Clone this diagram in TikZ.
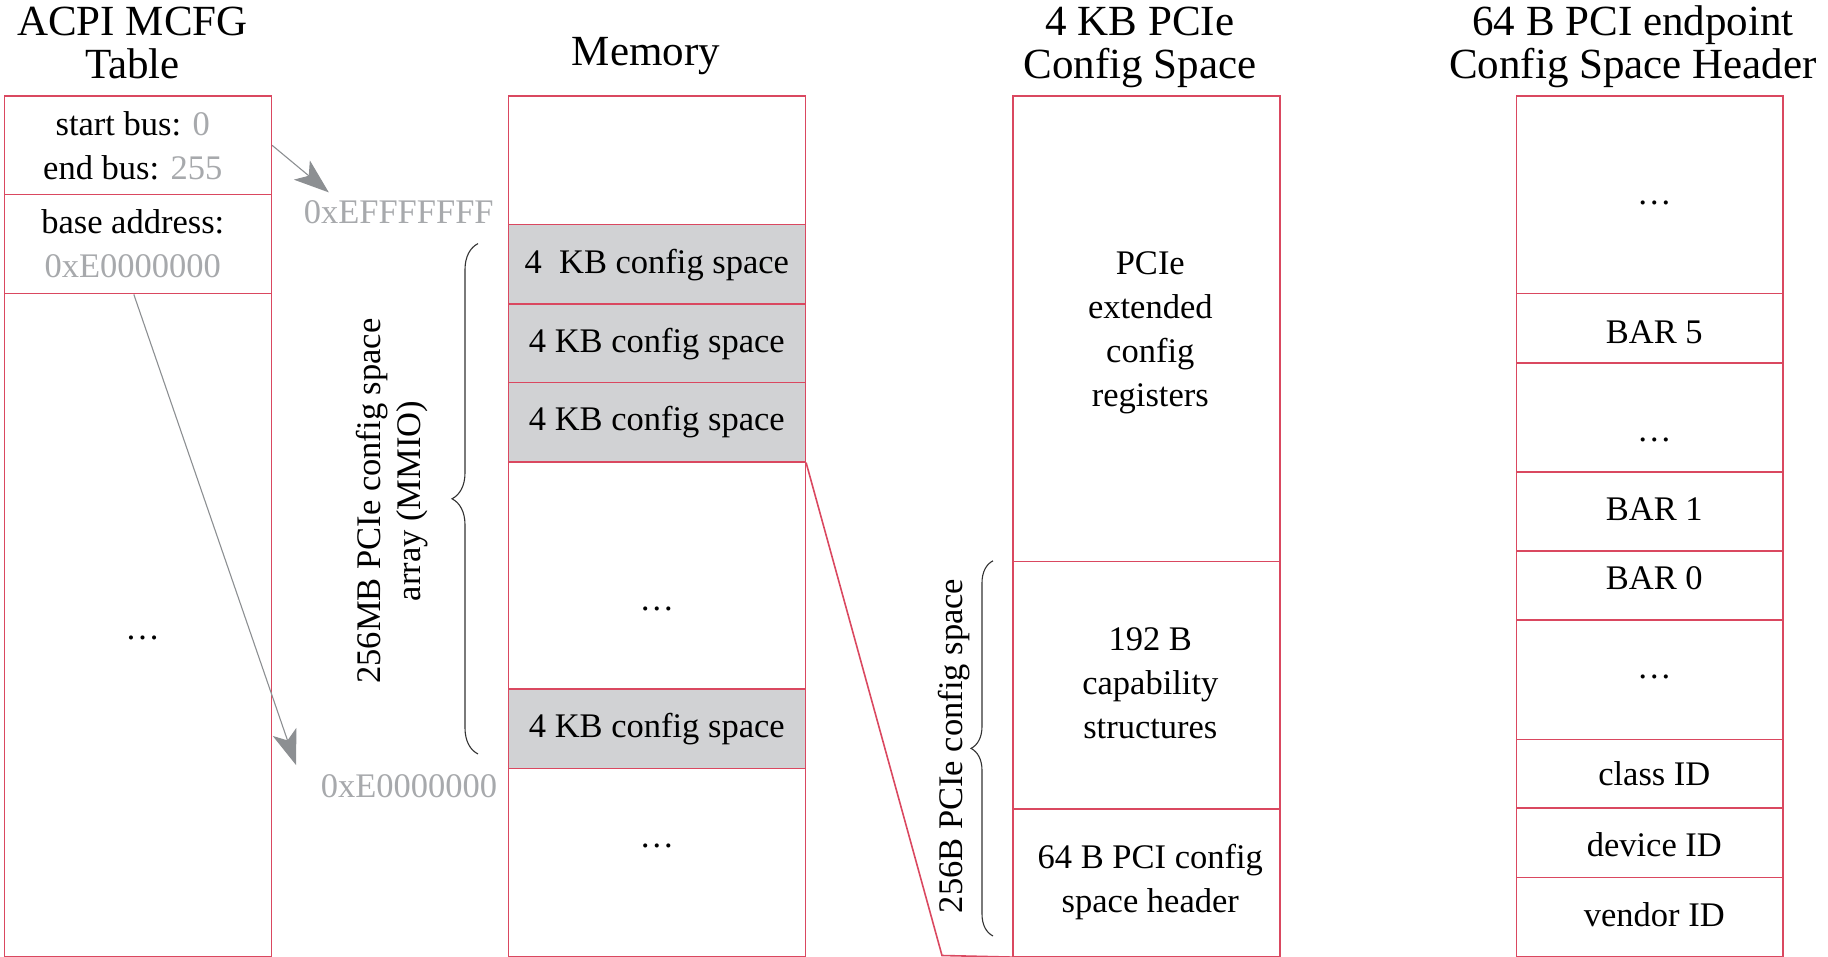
\documentclass[tikz,border=0pt]{standalone}
\usepackage{fontspec}
\setmainfont{Liberation Serif}
\usetikzlibrary{arrows.meta,decorations.pathreplacing}

\definecolor{cellred}{RGB}{218,72,96}
\definecolor{cfgfill}{RGB}{209,210,212}
\definecolor{addrgray}{RGB}{167,169,172}
\definecolor{arrowgray}{RGB}{140,143,146}

\newcommand\bodyfont{\fontsize{34.5}{44}\selectfont}
\newcommand\titlefont{\fontsize{43}{43}\selectfont}
\newcommand\addr[1]{\textcolor{addrgray}{#1}}

% one table cell: name, left, top, right, bottom, extra style,
% offset of its text from the cell centre, text
\newcommand\cellbox[8]{%
  \node[cell,#6,minimum width={(#4-#2)*1pt},minimum height={(#5-#3)*1pt}] (#1) at (#2,#3) {};
  \node[celltext] (#1-t) at ([shift={(#7)}]#1.center) {#8};}

\begin{document}
\begin{tikzpicture}[x=1pt,y=-1pt,
  cell/.style={draw=cellred,line width=1.6pt,inner sep=0pt,anchor=north west},
  celltext/.style={inner sep=0pt,align=center,font=\bodyfont},
  cfg/.style={fill=cfgfill},
  title/.style={align=center,font=\titlefont,inner sep=0pt,text depth=0pt},
  addrlabel/.style={font=\bodyfont,text=addrgray,inner sep=0pt},
  ptr/.style={draw=arrowgray,line width=1.1pt,
              -{Stealth[length=35pt,width=25pt,inset=9pt,fill=arrowgray]}},
  link/.style={draw=cellred,line width=1.6pt},
  bracestyle/.style={draw=black!80,line width=1.1pt,decorate}]

\useasboundingbox (0,0) rectangle (1828,957);

% column titles
\node[title] (tacpi) at (132.5,42.5) {ACPI MCFG\\Table};
\node[title] (tmem)  at (646,51)    {Memory};
\node[title] (tcfg)  at (1140,42.5) {4 KB PCIe\\Config Space};
\node[title] (thdr)  at (1633,42.5) {64 B PCI endpoint\\Config Space Header};

% ACPI MCFG table
\cellbox{acpi1}{3.5}{95.3}{270.5}{193.7}{}{-5,0}{start bus: \addr{0}\\end bus: \addr{255}}
\cellbox{acpi2}{3.5}{193.7}{270.5}{292.8}{}{-5,0}{base address:\\\addr{0xE0000000}}
\cellbox{acpi3}{3.5}{292.8}{270.5}{955.5}{}{4.7,12.8}{\dots}

% memory map
\cellbox{mem0}{507.5}{95.3}{804.5}{223.8}{}{0,0}{}
\cellbox{memA}{507.5}{223.8}{804.5}{303}{cfg}{0,1}{4\ \ KB config space}
\cellbox{memB}{507.5}{303}{804.5}{381.5}{cfg}{0,1}{4 KB config space}
\cellbox{memC}{507.5}{381.5}{804.5}{461}{cfg}{0,0}{4 KB config space}
\cellbox{memD}{507.5}{461}{804.5}{688.3}{}{0,33}{\dots}
\cellbox{memE}{507.5}{688.3}{804.5}{767.7}{cfg}{0,0}{4 KB config space}
\cellbox{memF}{507.5}{767.7}{804.5}{955.5}{}{0,-16}{\dots}

% 4 KB PCIe config space
\cellbox{cfgA}{1012}{95.3}{1279}{560.8}{}{4,3.5}{PCIe\\extended\\config\\registers}
\cellbox{cfgB}{1012}{560.8}{1279}{808}{}{4,-2}{192 B\\capability\\structures}
\cellbox{cfgC}{1012}{808}{1279}{955.5}{}{4,-1}{64 B PCI config\\space header}

% 64 B PCI endpoint header
\cellbox{hdr0}{1515.7}{95.3}{1782.3}{292.7}{}{4.5,8.4}{\dots}
\cellbox{hdr1}{1515.7}{292.7}{1782.3}{362.3}{}{4.5,3.5}{BAR 5}
\cellbox{hdr2}{1515.7}{362.3}{1782.3}{471}{}{4.5,22}{\dots}
\cellbox{hdr3}{1515.7}{471}{1782.3}{550.3}{}{4.5,-2.3}{BAR 1}
\cellbox{hdr4}{1515.7}{550.3}{1782.3}{619}{}{4.5,-7}{BAR 0}
\cellbox{hdr5}{1515.7}{619}{1782.3}{738.7}{}{4.5,-2.3}{\dots}
\cellbox{hdr6}{1515.7}{738.7}{1782.3}{807.3}{}{4.5,0}{class ID}
\cellbox{hdr7}{1515.7}{807.3}{1782.3}{876.7}{}{4.5,2.3}{device ID}
\cellbox{hdr8}{1515.7}{876.7}{1782.3}{955.5}{}{4.5,-2.3}{vendor ID}

% address labels and pointers from the MCFG entry
\node[addrlabel] (hi) at (398.7,212) {0xEFFFFFFF};
\node[addrlabel] (lo) at (409,786)   {0xE0000000};
\coordinate (hitip) at (328.8,192.4);
\coordinate (lotip) at (296,765);
\draw[ptr] (acpi1.east) -- (hitip);
\draw[ptr] ([xshift=-4pt]acpi2.south) -- (lotip);

% zoom from one 4 KB slot to its layout
\coordinate (fan) at (942,955.5);
\draw[link] (memC.south east) -- (fan) -- (cfgC.south west);

% braces with their captions
\coordinate (mmiobot) at (478,754);
\coordinate (mmiotop) at (478,243.6);
\draw[bracestyle,decoration={brace,amplitude=26pt}] (mmiobot) -- (mmiotop);
\node[font=\fontsize{34.5}{40}\selectfont,align=center,rotate=90,inner sep=0pt] (mmio) at (392,501)
  {256MB PCIe config space\\array (MMIO)};

\coordinate (pcibot) at (993,936);
\coordinate (pcitop) at (993,560.8);
\draw[bracestyle,decoration={brace,amplitude=22pt}] (pcibot) -- (pcitop);
\node[font=\bodyfont,rotate=90,inner sep=0pt] (pcie256) at (953.6,746)
  {256B PCIe config space};

\end{tikzpicture}
\end{document}
